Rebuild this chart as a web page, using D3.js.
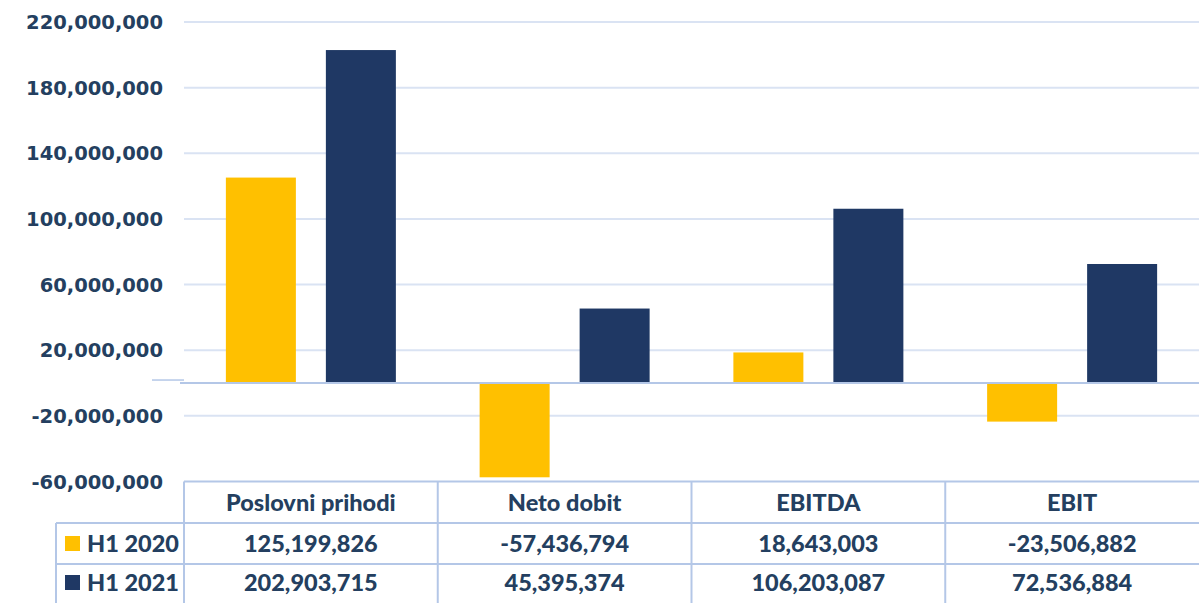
<!DOCTYPE html>
<html>
<meta charset="utf-8">
<script src="https://d3js.org/d3.v7.min.js"></script>

<head>
    <style>
        body {
            margin: 0;
            background-color: #ffffff;
        }

        svg {
            display: block;
        }
    </style>
</head>

<body>
</body>
<script>
    const categories = ["Poslovni prihodi", "Neto dobit", "EBITDA", "EBIT"];
    const seriesNames = ["H1 2020", "H1 2021"];
    const h12020 = [125199826, -57436794, 18643003, -23506882];
    const h12021 = [202903715, 45395374, 106203087, 72536884];
    const tickValues = [220e6, 180e6, 140e6, 100e6, 60e6, 20e6, -20e6, -60e6];

    const width = 1199,
        height = 603;
    const textColor = "#243f60";
    const colors = ["#ffc000", "#1f3864"];
    const svg = d3.select("body").append("svg").attr("width", width).attr("height", height);

    const plotLeft = 184,
        plotRight = 1199;
    const x = d3.scaleBand()
        .domain(categories)
        .range([plotLeft, plotRight]);
    const y = d3.scaleLinear()
        .domain([-60e6, 220e6])
        .range([481.5, 22]);
    const fmt = v => d3.format(",")(v).replace("\u2212", "-");

    // gridlines
    svg.append("g")
        .selectAll("line")
        .data(tickValues.filter(d => d > -60e6))
        .join("line")
        .attr("x1", plotLeft)
        .attr("x2", plotRight)
        .attr("y1", d => y(d))
        .attr("y2", d => y(d))
        .attr("stroke", "#dae3f3")
        .attr("stroke-width", 2);

    // tick labels
    svg.append("g")
        .selectAll("text")
        .data(tickValues)
        .join("text")
        .attr("x", 163)
        .attr("y", d => y(d))
        .attr("dy", "0.36em")
        .attr("text-anchor", "end")
        .attr("font-family", "DejaVu Sans")
        .attr("font-weight", "bold")
        .attr("font-size", "19.5px")
        .attr("fill", textColor)
        .text(d => fmt(d));

    // bars
    const barW = 70,
        barGap = 30;
    const series = [h12020, h12021];
    series.forEach((vals, s) => {
        svg.append("g")
            .selectAll("rect")
            .data(vals.map((v, i) => ({ cat: categories[i], v: v })))
            .join("rect")
            .attr("x", d => x(d.cat) + x.bandwidth() / 2 - barW - barGap / 2 + s * (barW + barGap))
            .attr("y", d => y(Math.max(0, d.v)))
            .attr("width", barW)
            .attr("height", d => Math.abs(y(d.v) - y(0)))
            .attr("fill", colors[s]);
    });

    // zero axis
    svg.append("line")
        .attr("x1", 180).attr("x2", plotRight)
        .attr("y1", y(0)).attr("y2", y(0))
        .attr("stroke", "#b4c7e7").attr("stroke-width", 2);
    svg.append("line")
        .attr("x1", 152).attr("x2", 184)
        .attr("y1", y(0) - 3).attr("y2", y(0) - 3)
        .attr("stroke", "#b4c7e7").attr("stroke-width", 1.5);

    // data table
    const rowTops = [481.5, 523, 564, 605];
    const tableLeft = 56;
    const border = "#b4c7e7";
    const tbl = svg.append("g");
    rowTops.forEach((ry, i) => {
        tbl.append("line")
            .attr("x1", i === 0 ? plotLeft : tableLeft)
            .attr("x2", plotRight)
            .attr("y1", ry).attr("y2", ry)
            .attr("stroke", border).attr("stroke-width", 2);
    });
    tbl.append("line")
        .attr("x1", tableLeft).attr("x2", tableLeft)
        .attr("y1", rowTops[1]).attr("y2", height)
        .attr("stroke", border).attr("stroke-width", 2);
    categories.forEach(c => {
        tbl.append("line")
            .attr("x1", x(c)).attr("x2", x(c))
            .attr("y1", rowTops[0]).attr("y2", height)
            .attr("stroke", border).attr("stroke-width", 2);
    });

    const cellFont = text => text
        .attr("font-family", "Lato")
        .attr("font-weight", "900")
        .attr("font-size", "23.5px")
        .attr("fill", textColor)
        .attr("dy", "0.36em");

    tbl.selectAll("text.head")
        .data(categories)
        .join("text")
        .attr("class", "head")
        .attr("x", d => x(d) + x.bandwidth() / 2)
        .attr("y", (rowTops[0] + rowTops[1]) / 2)
        .attr("text-anchor", "middle")
        .call(cellFont)
        .text(d => d);

    series.forEach((vals, s) => {
        const cy = (rowTops[s + 1] + rowTops[s + 2]) / 2 - (s === 1 ? 2 : 0);
        tbl.append("rect")
            .attr("x", 65).attr("y", cy - 7.5)
            .attr("width", 15).attr("height", 15)
            .attr("fill", colors[s]);
        tbl.append("text")
            .attr("x", 87).attr("y", cy)
            .call(cellFont)
            .text(seriesNames[s]);
        tbl.selectAll("text.v" + s)
            .data(vals.map((v, i) => ({ cat: categories[i], v: v })))
            .join("text")
            .attr("class", "v" + s)
            .attr("x", d => x(d.cat) + x.bandwidth() / 2)
            .attr("y", cy)
            .attr("text-anchor", "middle")
            .call(cellFont)
            .text(d => fmt(d.v));
    });
</script>

</html>
